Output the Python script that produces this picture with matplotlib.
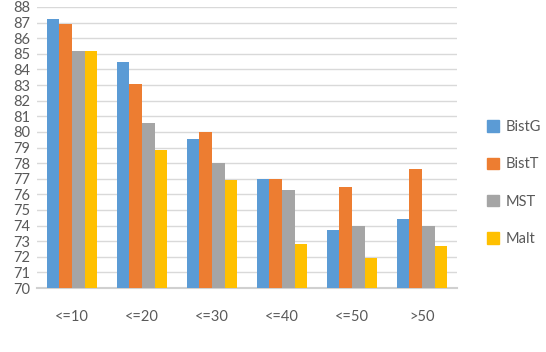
# -------------------------------------------------------------------------------------
# Library
import numpy as np
import matplotlib
matplotlib.use('Agg')
import matplotlib.pyplot as plt
from matplotlib.patches import Patch
# -------------------------------------------------------------------------------------

# -------------------------------------------------------------------------------------
# Data
categories = ['<=10', '<=20', '<=30', '<=40', '<=50', '>50']
series_names = ['BistG', 'BistT', 'MST', 'Malt']
bistg = [87.25, 84.45, 79.55, 77.0, 73.7, 74.45]
bistt = [86.9, 83.05, 80.0, 77.0, 76.5, 77.6]
mst = [85.2, 80.6, 78.0, 76.25, 74.0, 74.0]
malt = [85.2, 78.85, 76.95, 72.8, 71.95, 72.7]
y_ticks = list(range(70, 89))
# -------------------------------------------------------------------------------------

plt.rcParams['font.family'] = ['Lato', 'DejaVu Sans']

colors = ['#5B9BD5', '#ED7D31', '#A5A5A5', '#FFC000']
text_color = '#595959'

fig = plt.figure(figsize=(5.46, 3.52), dpi=100)
ax = fig.add_axes([37 / 546, 1 - 288 / 352, (457 - 37) / 546, (288 - 7) / 352])

x = np.arange(len(categories))
width = 0.182
for i, (name, vals) in enumerate(zip(series_names, [bistg, bistt, mst, malt])):
    ax.bar(x + (i - 1.5) * width, np.array(vals) - 70, bottom=70, width=width,
           color=colors[i], label=name, zorder=3)

ax.set_xlim(-0.5, len(categories) - 0.5)
ax.set_ylim(70, 88)
ax.set_yticks(y_ticks)
ax.set_yticklabels([str(t) for t in y_ticks])
ax.set_xticks(x)
ax.set_xticklabels(categories)

ax.grid(axis='y', color='#D9D9D9', linewidth=1.0, zorder=0)
for s in ['top', 'right', 'left']:
    ax.spines[s].set_visible(False)
ax.spines['bottom'].set_color('#D0D0D0')
ax.spines['bottom'].set_linewidth(1.5)
ax.tick_params(axis='both', length=0, labelsize=10.5, colors=text_color)
ax.tick_params(axis='x', pad=16)
ax.tick_params(axis='y', pad=17)
for lbl in ax.get_yticklabels():
    lbl.set_horizontalalignment('left')

handles = [Patch(color=c) for c in colors]
fig.legend(handles, series_names, loc='center left',
           bbox_to_anchor=(487 / 546, 1 - 183 / 352), frameon=False,
           borderpad=0, borderaxespad=0,
           handlelength=0.8, handleheight=0.8, handletextpad=0.5,
           labelspacing=1.6, fontsize=10.5, labelcolor=text_color)

fig.savefig('out.png', dpi=100)
